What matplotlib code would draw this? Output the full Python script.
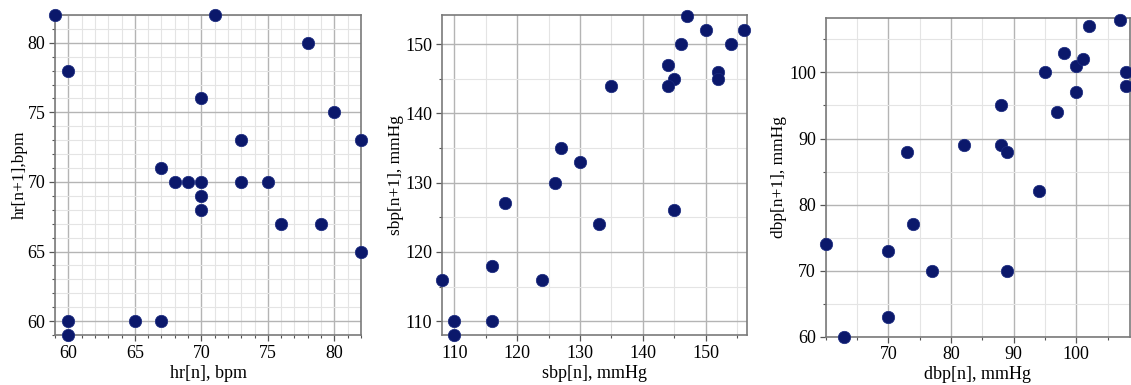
import matplotlib
matplotlib.use("Agg")
import matplotlib.pyplot as plt
from matplotlib.ticker import MultipleLocator

hr_n = [59, 71, 78, 60, 70, 80, 73, 82, 67, 68, 69, 70, 73, 75, 70, 70, 76, 79, 82, 60, 65, 67, 60]
hr_n1 = [82, 82, 80, 78, 76, 75, 73, 73, 71, 70, 70, 70, 70, 70, 69, 68, 67, 67, 65, 60, 60, 60, 59]

sbp_n = [147, 150, 156, 146, 154, 144, 152, 145, 152, 144, 135, 127, 130, 126, 118, 145, 133, 116, 108, 124, 110, 116, 110]
sbp_n1 = [154, 152, 152, 150, 150, 147, 146, 145, 145, 144, 144, 135, 133, 130, 127, 126, 124, 118, 116, 116, 110, 110, 108]

dbp_n = [60, 63, 70, 70, 73, 74, 77, 82, 88, 88, 89, 89, 94, 95, 97, 98, 100, 100, 101, 102, 107, 108, 108]
dbp_n1 = [74, 60, 73, 63, 88, 77, 70, 89, 95, 89, 88, 70, 82, 100, 94, 103, 101, 97, 102, 107, 108, 100, 98]

plt.rcParams['font.family'] = ['Liberation Serif', 'DejaVu Serif']

fig = plt.figure(figsize=(11.31, 3.85), dpi=100)

W, H = 1131, 385
def rect(l, r, t, b):
    return [l / W, (H - b) / H, (r - l) / W, (b - t) / H]

panels = [
    dict(r=rect(55, 361, 15, 335), x=hr_n, y=hr_n1, xlim=(59, 82), ylim=(59, 82),
         xt=[60, 65, 70, 75, 80], yt=[60, 65, 70, 75, 80], minor=1,
         xl="hr[n], bpm", yl="hr[n+1],bpm", ylp=-0.5),
    dict(r=rect(441.7, 746.7, 15, 335), x=sbp_n, y=sbp_n1, xlim=(108, 156.5), ylim=(108, 154.2),
         xt=[110, 120, 130, 140, 150], yt=[110, 120, 130, 140, 150], minor=5,
         xl="sbp[n], mmHg", yl="sbp[n+1], mmHg", ylp=1),
    dict(r=rect(825.7, 1129.5, 18.3, 336.7), x=dbp_n, y=dbp_n1, xlim=(60, 108.5), ylim=(60, 108.2),
         xt=[70, 80, 90, 100], yt=[60, 70, 80, 90, 100], minor=5,
         xl="dbp[n], mmHg", yl="dbp[n+1], mmHg", ylp=1.5),
]

for p in panels:
    ax = fig.add_axes(p['r'])
    ax.set_xlim(*p['xlim'])
    ax.set_ylim(*p['ylim'])
    ax.set_xticks(p['xt'])
    ax.set_yticks(p['yt'])
    ax.xaxis.set_minor_locator(MultipleLocator(p['minor']))
    ax.yaxis.set_minor_locator(MultipleLocator(p['minor']))
    ax.grid(True, which='major', color='#b4b4b4', linewidth=1.0)
    ax.grid(True, which='minor', color='#e4e4e4', linewidth=0.8)
    ax.set_axisbelow(True)
    for s in ax.spines.values():
        s.set_color('#7a7a7a')
        s.set_linewidth(1.2)
    ax.tick_params(which='major', length=4, width=0.9, color='#555555', labelsize=13, pad=3)
    ax.tick_params(which='minor', length=2.5, width=0.8, color='#555555')
    ax.scatter(p['x'], p['y'], s=80, color='#0b186b', edgecolors='#1a2a80', linewidths=0.5,
               zorder=5, clip_on=False)
    ax.set_xlabel(p['xl'], fontsize=13, labelpad=2)
    ax.set_ylabel(p['yl'], fontsize=12.5, labelpad=p['ylp'])

fig.savefig("out.png", dpi=100)
